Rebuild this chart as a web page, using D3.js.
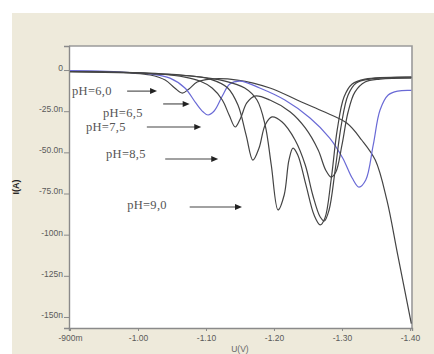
<!DOCTYPE html>
<html>
<head>
<meta charset="utf-8">
<script src="https://cdn.jsdelivr.net/npm/d3@7"></script>
<style>
  html, body { margin: 0; padding: 0; background: #ffffff; }
  svg { display: block; }
</style>
</head>
<body>
<script>
// Polarographic current (nA) against potential (V) at several pH values.
// Each series is a list of [potential V, current nA] readings.
const ph60 = [[-0.900,-0.6],[-0.944,-0.9],[-0.988,-1.8],[-1.018,-3.0],[-1.040,-6.1],[-1.054,-10.9],
  [-1.065,-14.0],[-1.075,-11.5],[-1.087,-7.3],[-1.106,-5.5],[-1.146,-6.1],[-1.194,-10.9],[-1.234,-18.2],
  [-1.271,-24.9],[-1.307,-32.2],[-1.329,-42.5],[-1.349,-54.7],[-1.366,-78.9],[-1.382,-112.3],[-1.402,-154.0]];
const ph65 = [[-0.900,-0.3],[-0.944,-0.6],[-0.988,-1.5],[-1.018,-2.4],[-1.047,-4.9],[-1.069,-10.9],
  [-1.085,-20.0],[-1.096,-25.5],[-1.103,-27.3],[-1.112,-24.9],[-1.124,-15.8],[-1.135,-8.5],[-1.150,-6.7],
  [-1.179,-10.9],[-1.216,-18.2],[-1.253,-29.1],[-1.282,-41.3],[-1.301,-53.4],[-1.315,-65.6],[-1.325,-71.1],
  [-1.335,-66.8],[-1.346,-45.5],[-1.356,-24.3],[-1.368,-15.2],[-1.382,-12.8],[-1.402,-12.4]];
const ph75 = [[-0.900,-0.9],[-0.974,-1.2],[-1.032,-2.4],[-1.069,-4.3],[-1.091,-6.7],[-1.109,-10.9],
  [-1.124,-18.2],[-1.134,-27.3],[-1.143,-34.6],[-1.151,-29.1],[-1.160,-20.0],[-1.172,-15.8],[-1.194,-18.2],
  [-1.224,-25.5],[-1.246,-35.2],[-1.265,-48.6],[-1.276,-60.7],[-1.284,-65.0],[-1.291,-61.9],[-1.300,-45.5],
  [-1.309,-25.5],[-1.319,-13.4],[-1.334,-7.3],[-1.356,-5.5],[-1.402,-4.9]];
const ph85 = [[-0.900,-0.9],[-0.988,-1.5],[-1.062,-3.0],[-1.106,-5.5],[-1.132,-10.9],[-1.147,-21.3],
  [-1.159,-39.5],[-1.169,-54.7],[-1.178,-47.4],[-1.187,-33.4],[-1.197,-28.5],[-1.212,-31.6],[-1.231,-42.5],
  [-1.246,-57.7],[-1.257,-75.9],[-1.268,-89.3],[-1.274,-91.7],[-1.281,-85.0],[-1.290,-60.7],[-1.299,-33.4],
  [-1.309,-15.2],[-1.321,-7.9],[-1.341,-5.5],[-1.402,-4.3]];
const ph90 = [[-0.900,-1.2],[-0.988,-1.8],[-1.076,-3.6],[-1.128,-6.7],[-1.157,-10.9],[-1.175,-18.2],
  [-1.187,-33.4],[-1.196,-57.7],[-1.206,-85.0],[-1.215,-75.9],[-1.222,-54.7],[-1.228,-47.4],[-1.235,-51.6],
  [-1.247,-69.8],[-1.259,-88.1],[-1.268,-94.1],[-1.275,-89.9],[-1.284,-66.8],[-1.293,-36.4],[-1.303,-16.4],
  [-1.315,-8.5],[-1.334,-5.5],[-1.402,-4.3]];

const seriesNames = ["pH=6,0", "pH=6,5", "pH=7,5", "pH=8,5", "pH=9,0"];
const seriesData = [ph60, ph65, ph75, ph85, ph90];

const xTickValues = [-0.9, -1.0, -1.1, -1.2, -1.3, -1.4];
const xTickLabels = ["-900m", "-1.00", "-1.10", "-1.20", "-1.30", "-1.40"];
const yTickValues = [0, -25, -50, -75, -100, -125, -150];
const yTickLabels = ["0", "-25.0n", "-50.0n", "-75.0n", "-100n", "-125n", "-150n"];

// Layout
const W = 434, H = 354;
const plot = { left: 69, right: 412, top: 46, bottom: 328 };
const xDomain = [-0.8985, -1.4030];
const yDomain = [-156.7, 14.6];
const seriesColor = ["#444444", "#6a6ad6", "#444444", "#444444", "#444444"];

const svg = d3.select("body").append("svg").attr("width", W).attr("height", H);

// window panel
svg.append("rect").attr("x", 12).attr("y", 13).attr("width", W - 12).attr("height", H - 13)
  .attr("fill", "#eeeadb");

const x = d3.scaleLinear().domain(xDomain).range([plot.left, plot.right]);
const y = d3.scaleLinear().domain(yDomain).range([plot.bottom, plot.top]);

// plot background and frame
svg.append("rect")
  .attr("x", plot.left).attr("y", plot.top)
  .attr("width", plot.right - plot.left).attr("height", plot.bottom - plot.top)
  .attr("fill", "#ffffff");
svg.append("path")
  .attr("d", `M${plot.left},${plot.top}H${plot.right}V${plot.bottom}`)
  .attr("fill", "none").attr("stroke", "#9a9a9a").attr("stroke-width", 1.6);

svg.append("clipPath").attr("id", "plotClip").append("rect")
  .attr("x", plot.left).attr("y", plot.top)
  .attr("width", plot.right - plot.left).attr("height", plot.bottom - plot.top);

// axes
const yAxis = d3.axisLeft(y).tickValues(yTickValues)
  .tickFormat((d, i) => yTickLabels[i]).tickSize(5).tickPadding(1);
const gy = svg.append("g").attr("transform", `translate(${plot.left},0)`).call(yAxis);
gy.select(".domain").attr("stroke", "#8a8a8a").attr("stroke-width", 1.4);
gy.selectAll(".tick line").attr("stroke", "#8a8a8a");
gy.selectAll(".tick text")
  .attr("font-family", "Liberation Sans, Arial, sans-serif").attr("font-size", 8.5)
  .attr("fill", "#5a5a5a").attr("dy", "0.05em");

const xAxis = d3.axisBottom(x).tickValues(xTickValues)
  .tickFormat((d, i) => xTickLabels[i]).tickSize(3).tickPadding(4);
const gx = svg.append("g").attr("transform", `translate(0,${plot.bottom})`).call(xAxis);
gx.select(".domain").attr("stroke", "#8a8a8a").attr("stroke-width", 1.4);
gx.selectAll(".tick line").attr("stroke", "#8a8a8a");
gx.selectAll(".tick text")
  .attr("font-family", "Liberation Sans, Arial, sans-serif").attr("font-size", 8.5)
  .attr("fill", "#5a5a5a");

// axis titles
svg.append("text")
  .attr("transform", `translate(19,${(plot.top + plot.bottom) / 2}) rotate(-90)`)
  .attr("text-anchor", "middle")
  .attr("font-family", "Liberation Sans, Arial, sans-serif").attr("font-size", 9)
  .attr("font-weight", "bold").attr("fill", "#222")
  .text("I(A)");
svg.append("text")
  .attr("x", (x(-1.1) + x(-1.2)) / 2).attr("y", 351.5)
  .attr("text-anchor", "middle")
  .attr("font-family", "Liberation Sans, Arial, sans-serif").attr("font-size", 8.5)
  .attr("fill", "#666")
  .text("U(V)");

// curves
const line = d3.line()
  .x(d => x(d[0])).y(d => y(d[1]))
  .curve(d3.curveCatmullRom.alpha(0.5));

svg.append("g").attr("clip-path", "url(#plotClip)")
  .selectAll("path").data(seriesData).join("path")
  .attr("d", line)
  .attr("fill", "none")
  .attr("stroke", (d, i) => seriesColor[i])
  .attr("stroke-width", 1.2);

// callouts: label position and arrow span, in axis units
const callouts = [
  { label: 0, tx: -0.903, ty: -12.8, a0: -0.984, a1: -1.028, ay: -12.8 },
  { label: 1, tx: -0.9485, ty: -26.1, a0: -1.037, a1: -1.076, ay: -20.6 },
  { label: 2, tx: -0.9235, ty: -34.6, a0: -1.013, a1: -1.093, ay: -34.6 },
  { label: 3, tx: -0.953, ty: -51.0, a0: -1.040, a1: -1.118, ay: -54.0 },
  { label: 4, tx: -0.984, ty: -82.0, a0: -1.076, a1: -1.153, ay: -83.2 }
];

const cg = svg.append("g");
callouts.forEach(c => {
  cg.append("text")
    .attr("x", x(c.tx)).attr("y", y(c.ty))
    .attr("dominant-baseline", "central")
    .attr("font-family", "Liberation Serif, Times New Roman, serif")
    .attr("font-size", 12.5).attr("letter-spacing", 0.3)
    .attr("fill", "#555")
    .text(seriesNames[c.label]);
  const x0 = x(c.a0), x1 = x(c.a1), ay = y(c.ay);
  cg.append("line")
    .attr("x1", x0).attr("y1", ay).attr("x2", x1 - 5).attr("y2", ay)
    .attr("stroke", "#444").attr("stroke-width", 1.1);
  cg.append("path")
    .attr("d", `M${x1},${ay}L${x1 - 7},${ay - 3}L${x1 - 7},${ay + 3}Z`)
    .attr("fill", "#222");
});
</script>
</body>
</html>
